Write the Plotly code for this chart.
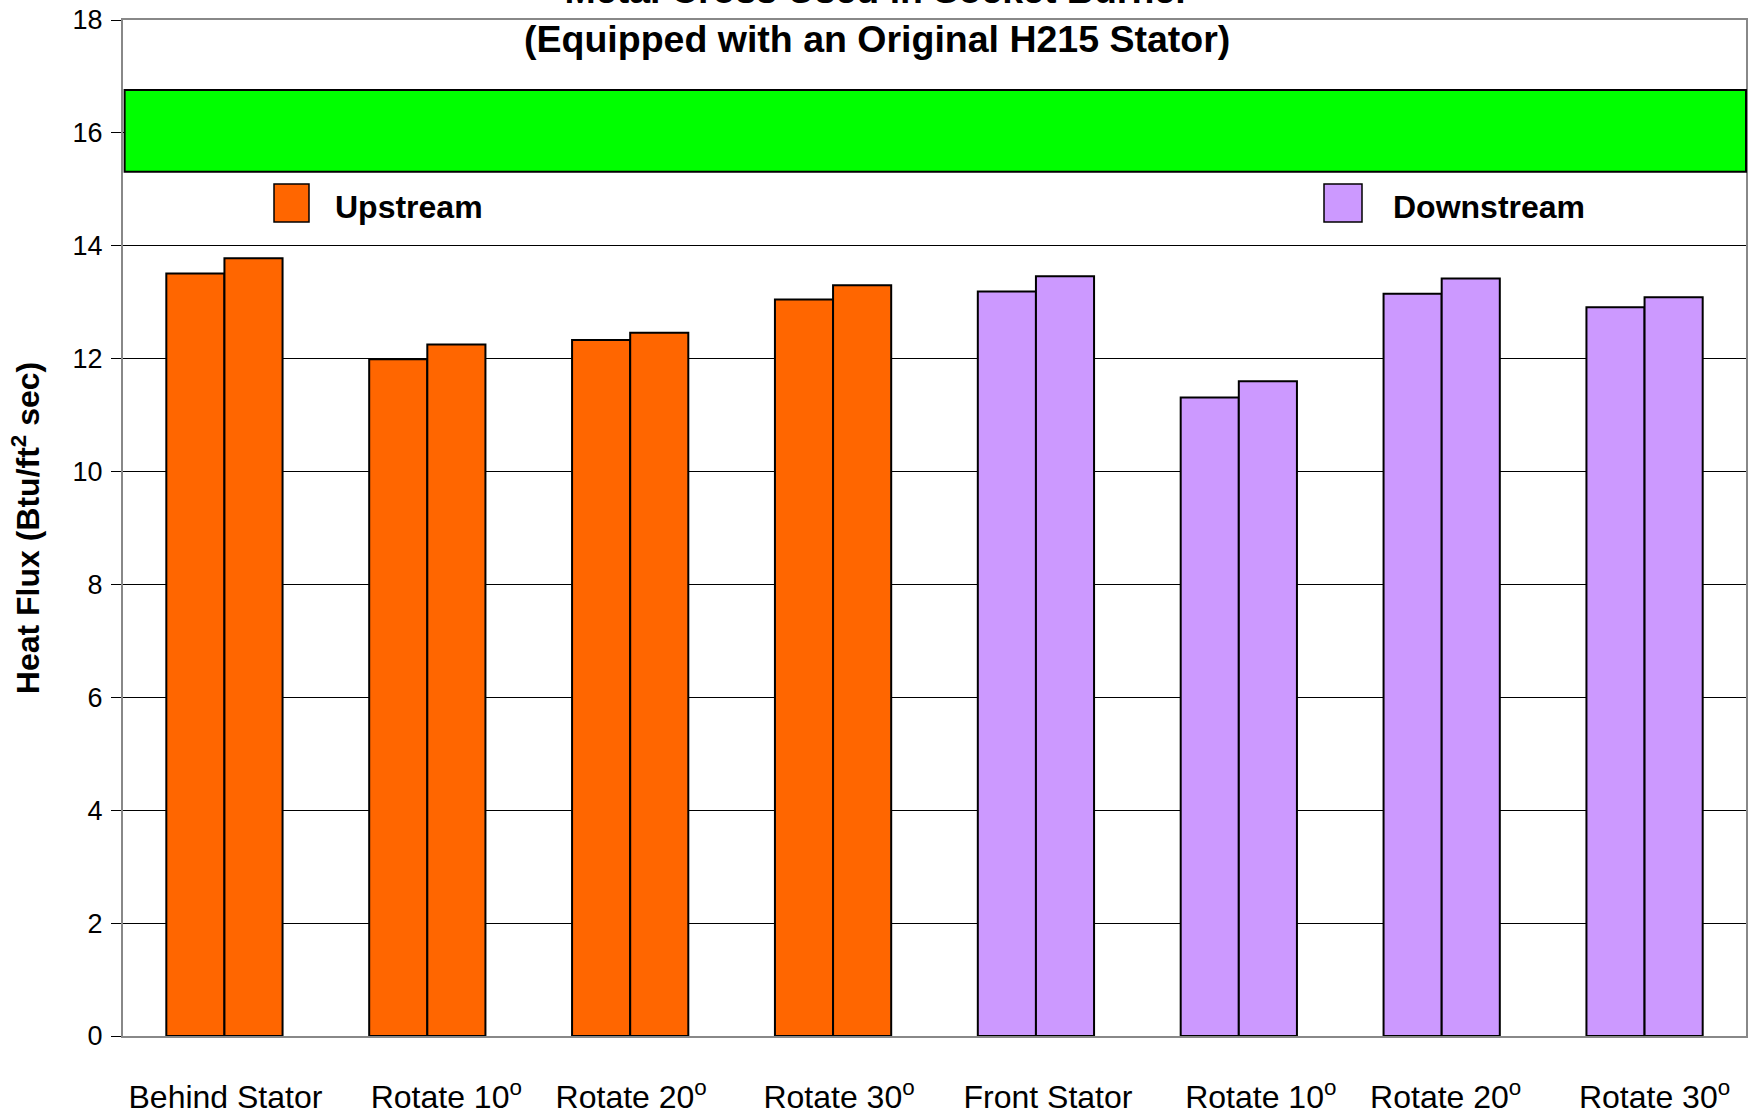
import plotly.graph_objects as go

# ---- data ----
CATEGORIES = ["Behind Stator", "Rotate 10<sup>o</sup>", "Rotate 20<sup>o</sup>", "Rotate 30<sup>o</sup>",
              "Front Stator", "Rotate 10<sup>o</sup>", "Rotate 20<sup>o</sup>", "Rotate 30<sup>o</sup>"]
SECTION = ["Upstream", "Upstream", "Upstream", "Upstream",
           "Downstream", "Downstream", "Downstream", "Downstream"]
RUN_1 = [13.51, 11.99, 12.33, 13.05, 13.19, 11.31, 13.15, 12.91]
RUN_2 = [13.78, 12.25, 12.46, 13.30, 13.46, 11.60, 13.42, 13.09]
BAND_LOW = 15.31
BAND_HIGH = 16.76
Y_TICKS = [0, 2, 4, 6, 8, 10, 12, 14, 16, 18]
LEGEND_NAMES = ["Upstream", "Downstream"]

TITLE_LINES = ["Metal Cross Used in Socket Burner", "(Equipped with an Original H215 Stator)"]
Y_TITLE = "Heat Flux (Btu/ft<sup>2</sup> sec)"

COLORS = {"Upstream": "#FF6600", "Downstream": "#CC99FF"}
FONT = "Liberation Sans, Arial, sans-serif"
# horizontal nudge (px) of each category label, as placed in the original
LABEL_NUDGE_PX = [1, 19, 1, 6, 12, 22, 4, 10]

W, H = 1753, 1114
# plot area in page pixels
PL, PR, PT, PB = 123, 1746, 20, 1036
ML, MT, MR, MB = PL, PT, W - PR, H - PB

x_pos = list(range(len(CATEGORIES)))
bar_colors = [COLORS[s] for s in SECTION]
cat_px = (PR - PL) / len(CATEGORIES)
label_pos = [x + n / cat_px for x, n in zip(x_pos, LABEL_NUDGE_PX)]

fig = go.Figure()
for vals in (RUN_1, RUN_2):
    fig.add_trace(go.Bar(
        x=x_pos, y=vals,
        marker=dict(color=bar_colors, line=dict(color="black", width=2)),
        showlegend=False, hoverinfo="y",
    ))

# green band
fig.add_shape(type="rect", xref="paper", yref="y", x0=0.001, x1=1.0,
              y0=BAND_LOW, y1=BAND_HIGH, fillcolor="#00FF00",
              line=dict(color="black", width=2), layer="above")

def px_x(x):  # page px -> paper
    return (x - PL) / (PR - PL)
def px_y(y):
    return (PB - y) / (PB - PT)

# title (two lines, the first mostly above the page edge as in the original)
fig.add_annotation(xref="paper", yref="paper", x=px_x(W / 2), y=px_y(14.5),
                   xanchor="center", yanchor="middle", showarrow=False,
                   text="<br>".join("<b>%s</b>" % t for t in TITLE_LINES),
                   font=dict(family=FONT, size=37.5, color="black"))

# manual legend (swatch + label), split like the original
legend_spots = [(274, 309, 333), (1324, 1362, 1391)]
for name, (sx0, sx1, tx) in zip(LEGEND_NAMES, legend_spots):
    fig.add_shape(type="rect", xref="paper", yref="paper",
                  x0=px_x(sx0), x1=px_x(sx1), y0=px_y(222), y1=px_y(184),
                  fillcolor=COLORS[name], line=dict(color="black", width=1.5))
    fig.add_annotation(xref="paper", yref="paper", x=px_x(tx), y=px_y(207),
                       xanchor="left", yanchor="middle", showarrow=False,
                       text="<b>%s</b>" % name,
                       font=dict(family=FONT, size=32, color="black"))

fig.update_layout(
    width=W, height=H,
    margin=dict(l=ML, r=MR, t=MT, b=MB, pad=0, autoexpand=False),
    paper_bgcolor="white", plot_bgcolor="white",
    barmode="group", bargap=0.427, bargroupgap=0,
    font=dict(family=FONT, color="black"),
)

fig.update_xaxes(
    range=[-0.5, len(CATEGORIES) - 0.5],
    tickmode="array", tickvals=label_pos, ticktext=CATEGORIES,
    tickfont=dict(family=FONT, size=32, color="black"),
    ticks="", ticklabelstandoff=32, ticklabeloverflow="allow",
    showgrid=False, zeroline=False, automargin=False,
    showline=True, linecolor="#888888", linewidth=2, mirror=True,
)
fig.update_yaxes(
    range=[0, 18], tickmode="array", tickvals=Y_TICKS,
    tickfont=dict(family=FONT, size=27, color="black"),
    ticks="outside", ticklen=10, tickcolor="black", tickwidth=1,
    ticklabelstandoff=3, ticklabeloverflow="allow", automargin=False,
    showgrid=True, gridcolor="black", gridwidth=1,
    zeroline=False,
    showline=True, linecolor="#888888", linewidth=2, mirror=True,
    title=dict(text="<b>" + Y_TITLE + "</b>", standoff=23,
               font=dict(family=FONT, size=32, color="black")),
)

# remove the browser's default 8px page margin so the figure fills the window
fig.write_html("out.html", config={"displayModeBar": False},
               post_script="document.body.style.margin='0px';")
